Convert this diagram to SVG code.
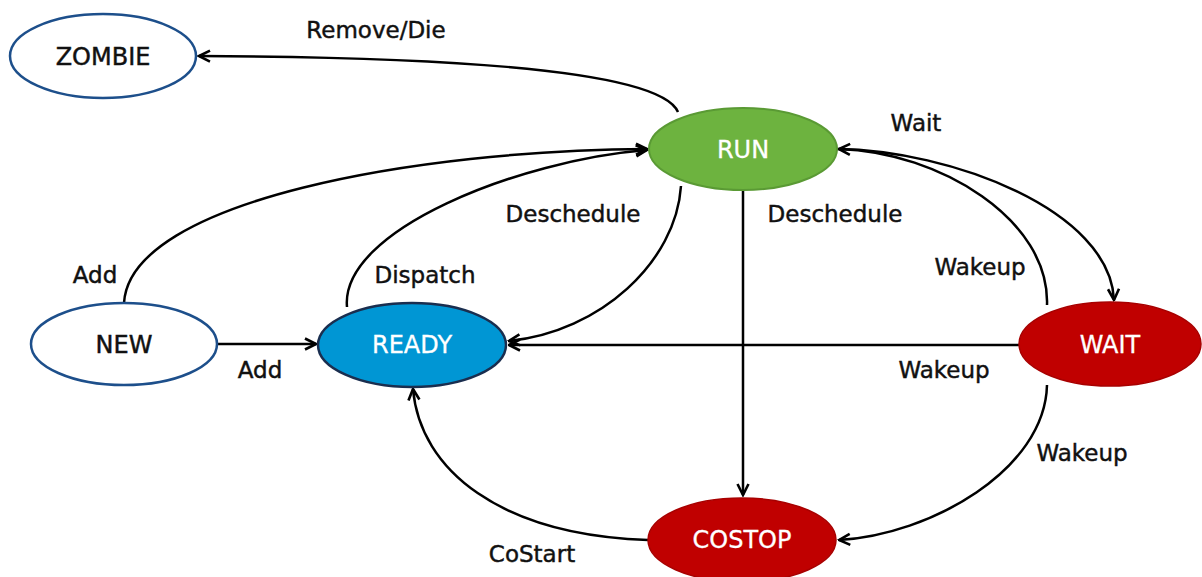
<svg xmlns="http://www.w3.org/2000/svg" width="1202" height="577" viewBox="0 0 1202 577">
<style>
text{font-family:"DejaVu Sans","Liberation Sans",sans-serif;font-size:23px;text-anchor:middle;fill:#111;stroke:#111;stroke-width:0.45}
.n{font-size:24px}
.w{fill:#fff;stroke:#fff;stroke-width:0.3}
.c{fill:none;stroke:#000;stroke-width:2.5;marker-end:url(#a)}
</style>
<defs>
<marker id="a" viewBox="0 0 14 14" refX="12.5" refY="7" markerWidth="14" markerHeight="14" markerUnits="userSpaceOnUse" orient="auto">
<path d="M1.5,1.5 L12.5,7 L1.5,12.5" fill="none" stroke="#000" stroke-width="2.6"/>
</marker>
</defs>
<rect width="1202" height="577" fill="#fff"/>
<g id="connectors">
<path class="c" d="M678,112 C660,70 450,57 199,56"/>
<path class="c" d="M124,303 C130,200 420,150 647,149"/>
<path class="c" d="M217,344 L316,344"/>
<path class="c" d="M347,307 C340,230 520,160 647,150"/>
<path class="c" d="M681,186 C676,262 600,332 509,341"/>
<path class="c" d="M1019,345 L509,345"/>
<path class="c" d="M743,190 L743,495"/>
<path class="c" d="M837,149 C950,150 1110,210 1114,300"/>
<path class="c" d="M1047,305 C1050,220 940,152 839,149"/>
<path class="c" d="M1047,385 C1045,470 930,535 839,540"/>
<path class="c" d="M648,540 C500,535 420,470 413,389"/>
<text x="376" y="38">Remove/Die</text>
<text x="95" y="283">Add</text>
<text x="260" y="378">Add</text>
<text x="425" y="283">Dispatch</text>
<text x="573" y="222">Deschedule</text>
<text x="835" y="222">Deschedule</text>
<text x="916" y="131">Wait</text>
<text x="980" y="275">Wakeup</text>
<text x="944" y="378">Wakeup</text>
<text x="1082" y="461">Wakeup</text>
<text x="532" y="562">CoStart</text>
</g>
<g id="zombie">
<ellipse cx="103" cy="56" rx="93" ry="42" fill="#fff" stroke="#1d4f8b" stroke-width="2.5"/>
<text class="n" x="103" y="65">ZOMBIE</text>
</g>
<g id="run">
<ellipse cx="743" cy="149" rx="94" ry="41" fill="#6db33f" stroke="#5a9a34" stroke-width="2"/>
<text class="n w" x="743" y="158">RUN</text>
</g>
<g id="new">
<ellipse cx="124" cy="344" rx="93" ry="41" fill="#fff" stroke="#1d4f8b" stroke-width="2.5"/>
<text class="n" x="124" y="353">NEW</text>
</g>
<g id="ready">
<ellipse cx="412" cy="345" rx="94" ry="42" fill="#0096d4" stroke="#1a2e4f" stroke-width="2.5"/>
<text class="n w" x="412" y="353">READY</text>
</g>
<g id="wait">
<ellipse cx="1110" cy="344" rx="91" ry="42" fill="#c00000" stroke="#a80000" stroke-width="1.5"/>
<text class="n w" x="1110" y="353">WAIT</text>
</g>
<g id="costop">
<ellipse cx="742" cy="540" rx="94" ry="42" fill="#c00000" stroke="#a80000" stroke-width="1.5"/>
<text class="n w" x="742" y="548">COSTOP</text>
</g>
</svg>
